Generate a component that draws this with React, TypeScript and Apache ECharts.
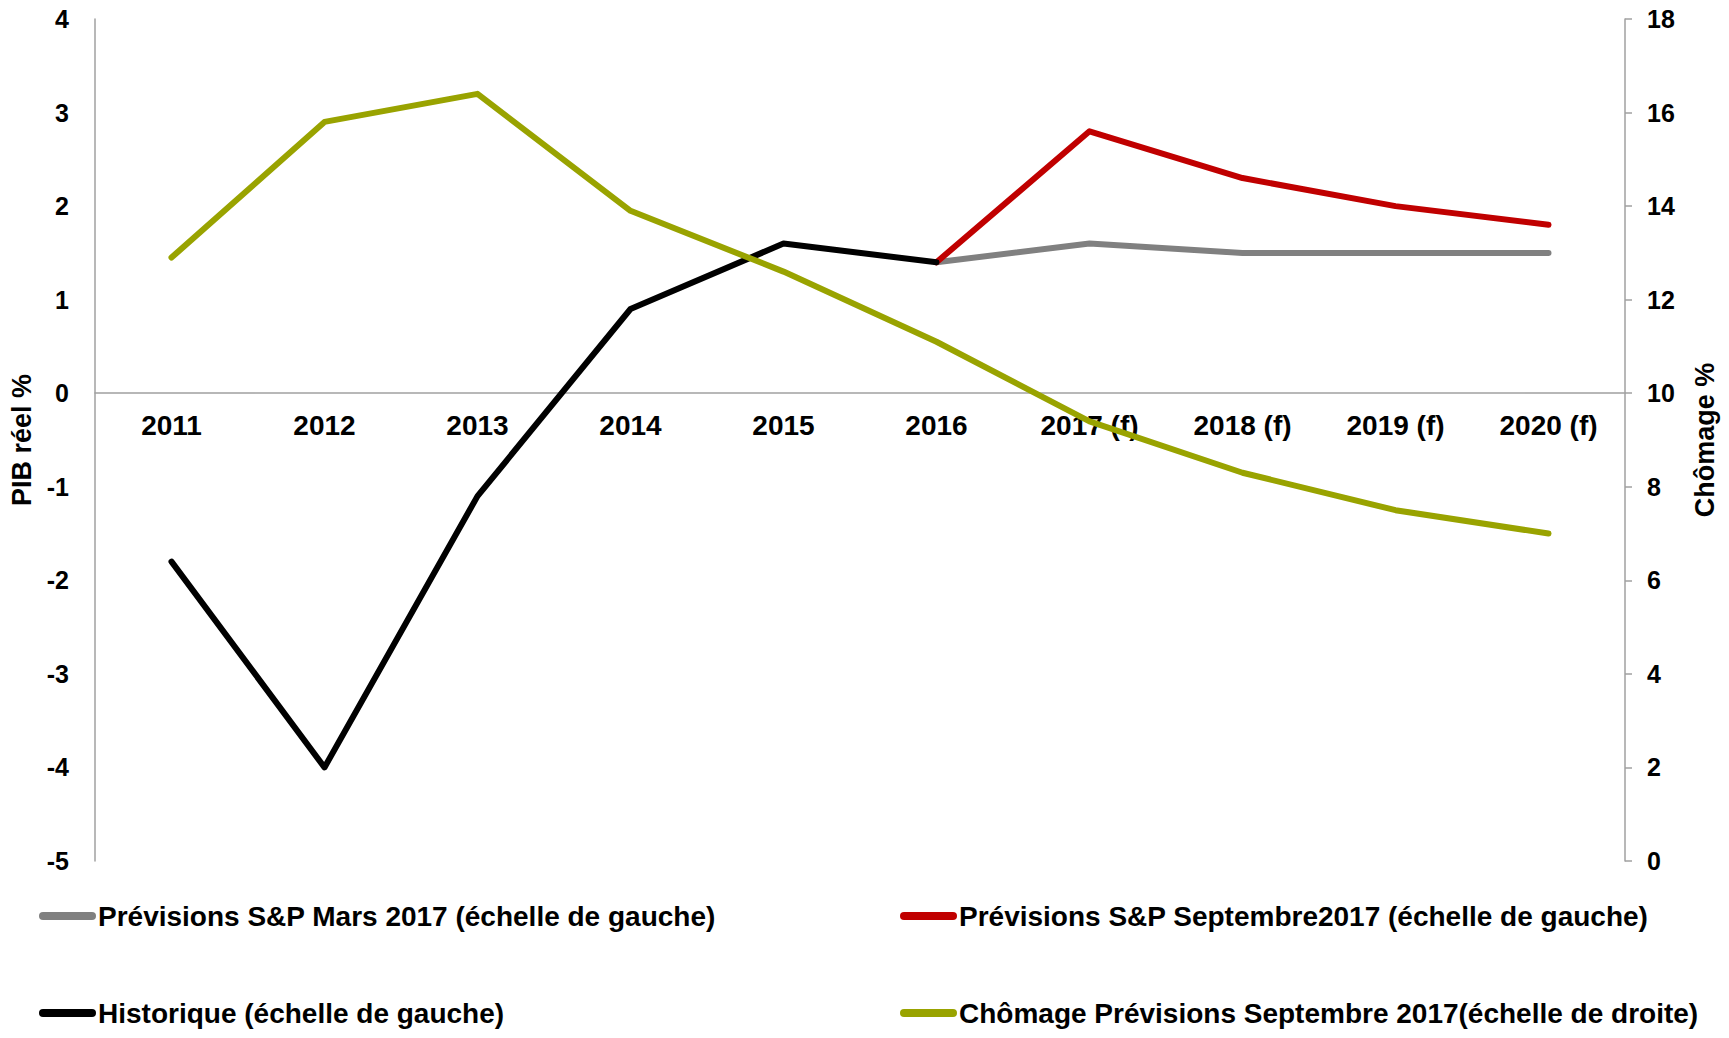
import React, { useEffect, useRef } from "react";
import * as echarts from "echarts";

const categories = ["2011", "2012", "2013", "2014", "2015", "2016", "2017 (f)", "2018 (f)", "2019 (f)", "2020 (f)"];
const marsForecast = [null, null, null, null, null, 1.4, 1.6, 1.5, 1.5, 1.5];
const septForecast = [null, null, null, null, null, 1.4, 2.8, 2.3, 2.0, 1.8];
const historical = [-1.8, -4.0, -1.1, 0.9, 1.6, 1.4, null, null, null, null];
const unemployment = [12.9, 15.8, 16.4, 13.9, 12.6, 11.1, 9.4, 8.3, 7.5, 7.0];

const NAME_MARS = "Prévisions S&P Mars 2017 (échelle de gauche)";
const NAME_SEPT = "Prévisions S&P Septembre2017 (échelle de gauche)";
const NAME_HIST = "Historique (échelle de gauche)";
const NAME_CHOM = "Chômage Prévisions Septembre 2017(échelle de droite)";

const NARROW = "'Liberation Sans Narrow', 'Arial Narrow', 'Liberation Sans', Arial, sans-serif";
const ARIAL = "'Liberation Sans', Arial, sans-serif";
const PILL = "path://M4,0 H53 A4,4 0 0 1 53,8 H4 A4,4 0 0 1 4,0 Z";

export default function App() {
  const ref = useRef<HTMLDivElement>(null);
  useEffect(() => {
    if (!ref.current) return;
    const chart = echarts.init(ref.current, undefined, { renderer: "svg" });
    const legendBase = (name: string, left: number, top: number) => ({
      data: [{ name, icon: PILL }],
      left,
      top,
      itemWidth: 57,
      itemHeight: 8,
      selectedMode: false,
      textStyle: { fontFamily: NARROW, fontWeight: "bold", fontSize: 28, color: "#000", padding: [0, 0, 0, -3] },
    });
    const line = (name: string, data: (number | null)[], color: string, yAxisIndex: number) => ({
      name,
      type: "line",
      data,
      yAxisIndex,
      symbol: "none",
      lineStyle: { color, width: 6, cap: "round", join: "round" },
      itemStyle: { color },
    });
    chart.setOption({
      animation: false,
      backgroundColor: "#fff",
      grid: { left: 95, right: 104, top: 19, bottom: 177, containLabel: false },
      legend: [
        legendBase(NAME_MARS, 34, 897),
        legendBase(NAME_SEPT, 895, 897),
        legendBase(NAME_HIST, 34, 994),
        legendBase(NAME_CHOM, 895, 994),
      ],
      xAxis: {
        type: "category",
        data: categories,
        boundaryGap: true,
        position: "bottom",
        offset: -468,
        axisLine: { onZero: false, lineStyle: { color: "#A0A0A0", width: 1.5 } },
        axisTick: { show: false },
        axisLabel: { fontFamily: NARROW, fontWeight: "bold", fontSize: 28, color: "#000", margin: 18, interval: 0 },
      },
      yAxis: [
        {
          type: "value",
          min: -5,
          max: 4,
          interval: 1,
          name: "PIB réel %",
          nameLocation: "middle",
          nameRotate: 90,
          nameGap: 60,
          nameTextStyle: { fontFamily: NARROW, fontWeight: "bold", fontSize: 27, color: "#000" },
          axisLine: { show: true, lineStyle: { color: "#A0A0A0", width: 1.5 } },
          axisTick: { show: false },
          splitLine: { show: false },
          axisLabel: { fontFamily: ARIAL, fontWeight: "bold", fontSize: 25, color: "#000", margin: 26 },
        },
        {
          type: "value",
          min: 0,
          max: 18,
          interval: 2,
          position: "right",
          name: "Chômage %",
          nameLocation: "middle",
          nameRotate: 90,
          nameGap: 66,
          nameTextStyle: { fontFamily: NARROW, fontWeight: "bold", fontSize: 27, color: "#000" },
          axisLine: { show: true, lineStyle: { color: "#A0A0A0", width: 1.5 } },
          axisTick: { show: true, length: 7, lineStyle: { color: "#A0A0A0", width: 1.5 } },
          splitLine: { show: false },
          axisLabel: { fontFamily: ARIAL, fontWeight: "bold", fontSize: 25, color: "#000", margin: 22 },
        },
      ],
      series: [
        line(NAME_MARS, marsForecast, "#808080", 0),
        line(NAME_SEPT, septForecast, "#C00000", 0),
        line(NAME_HIST, historical, "#000000", 0),
        line(NAME_CHOM, unemployment, "#99A300", 1),
      ],
    });
    return () => chart.dispose();
  }, []);
  return (
    <div
      ref={ref}
      style={{ position: "fixed", left: 0, top: 0, width: 1729, height: 1038, background: "#fff" }}
    />
  );
}
